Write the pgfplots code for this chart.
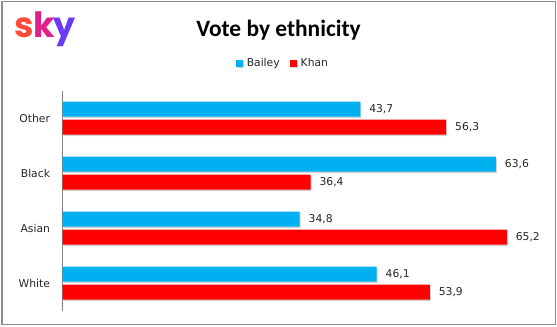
\documentclass[border=0pt]{standalone}
\usepackage{pgfplots}
\pgfplotsset{compat=1.18}
\usepackage{fontspec}
\setmainfont{DejaVu Sans}
\newfontfamily\titlefont{Carlito}
\newfontfamily\logofont{Poppins}
\usetikzlibrary{shadows}
\definecolor{bailey}{HTML}{00B0F0}
\definecolor{khan}{HTML}{FF0000}
\definecolor{txt}{HTML}{262626}
\begin{document}
\begin{tikzpicture}[x=1bp,y=1bp]
\useasboundingbox (0,0) rectangle (557,326);
\draw[draw=gray!90, line width=1.2bp] (2,1.8) rectangle (555.5,324.2);
\node[font=\logofont\bfseries\fontsize{35}{35}\selectfont, inner sep=0pt, anchor=base west] at (14,289) {\textcolor[HTML]{FF4A3A}{s}\kern-0.5bp\textcolor[HTML]{E0208A}{k}\kern-1bp\textcolor[HTML]{6A3AF5}{y}};
\node[font=\titlefont\bfseries\fontsize{23.5}{24}\selectfont, text=black, anchor=base] at (278.5,289.5) {Vote by ethnicity};
\begin{axis}[
  at={(62.5bp,15.5bp)}, anchor=south west,
  scale only axis, width=477bp, height=220bp,
  xbar, bar width=15bp,
  xmin=0, xmax=70, ymin=-0.5, ymax=3.5,
  axis x line=none,
  axis y line*=left,
  y axis line style={draw=gray, line width=0.8bp, -},
  ytick={0,1,2,3}, yticklabels={White,Asian,Black,Other},
  major tick length=0pt,
  yticklabel style={font=\fontsize{10.8}{12}\selectfont, text=txt, xshift=-9bp},
  nodes near coords,
  every node near coord/.append style={font=\fontsize{10.8}{12}\selectfont, text=txt, anchor=west, xshift=5.5bp},
  /pgf/number format/.cd, use comma, fixed, fixed zerofill, precision=1, assume math mode=true,
  /pgfplots/.cd,
  legend style={at={(0.462,1.123)}, anchor=center, draw=none, legend columns=2,
    font=\fontsize{10.8}{12}\selectfont, text=txt,
    /tikz/every odd column/.append style={column sep=2bp},
    /tikz/every even column/.append style={column sep=8bp}},
  legend image code/.code={\fill[#1] (1bp,-3.5bp) rectangle (8bp,3.5bp);},
  clip=false,
]
\addplot[fill=bailey, draw=none, bar shift=9bp, drop shadow={shadow xshift=1bp, shadow yshift=-1.5bp, opacity=0.35, fill=gray}] coordinates {(46.1,0) (34.8,1) (63.6,2) (43.7,3)};
\addplot[fill=khan, draw=none, bar shift=-9bp, drop shadow={shadow xshift=1bp, shadow yshift=-1.5bp, opacity=0.35, fill=gray}] coordinates {(53.9,0) (65.2,1) (36.4,2) (56.3,3)};
\legend{Bailey, Khan}
\end{axis}
\end{tikzpicture}
\end{document}
